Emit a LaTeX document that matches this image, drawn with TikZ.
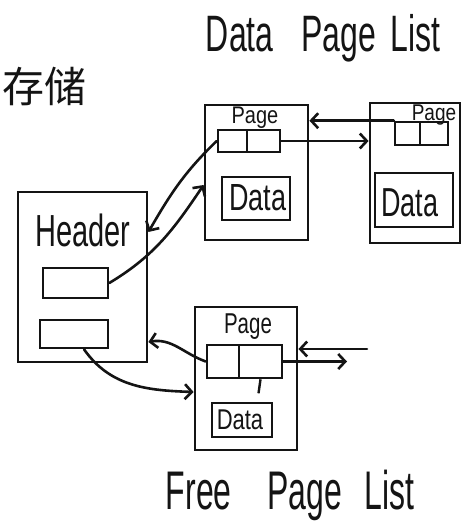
\documentclass[tikz,border=0pt]{standalone}
\usepackage{fontspec}
\setmainfont{Liberation Sans}
\newfontfamily\cjk{Noto Sans CJK SC}
\usepackage{graphicx}
\usetikzlibrary{arrows.meta}
\usetikzlibrary{calc}
\tikzset{>={Straight Barb[length=7pt,width=15pt]}}
\colorlet{ink}{black!92}
\tikzstyle{box}=[draw=ink,line width=2.8pt,inner sep=0pt]
\tikzstyle{cell}=[box,line width=2.6pt]
\tikzstyle{link}=[draw=ink,line width=2.6pt,->,line cap=round]
\tikzstyle{hand}=[inner sep=0pt,text=ink]
\newcommand{\tall}[2][1.4]{\scalebox{1}[#1]{#2}}

\begin{document}
\begin{tikzpicture}[x=1pt,y=1pt]
  \useasboundingbox (0,0) rectangle (465,530);

  % header block with its two slots
  \node[box,minimum width=129pt,minimum height=170pt] (header) at (82.5,253) {};
  \node[hand,font=\fontsize{29}{29}\selectfont] (headtxt) at (83,300) {\tall[1.55]{Header}};
  \node[cell,minimum width=65pt,minimum height=30pt] (slot1) at (75.5,247) {};
  \node[cell,minimum width=68pt,minimum height=28pt] (slot2) at (74,196) {};

  % data page list
  \node[box,minimum width=103pt,minimum height=135pt] (page1) at (256.5,357.5) {};
  \node[hand,font=\fontsize{20}{20}\selectfont] (pg1txt) at (255,412) {\tall[1.2]{Page}};
  \node[cell,minimum width=29pt,minimum height=22pt] (p1c1) at (232.5,389) {};
  \node[cell,minimum width=33pt,minimum height=22pt] (p1c2) at (263.5,389) {};
  \node[cell,minimum width=68pt,minimum height=43pt] (p1d) at (256,331.5) {};
  \node[hand,font=\fontsize{27}{27}\selectfont] (p1dtxt) at (258,332) {\tall{Data}};

  \node[box,minimum width=90pt,minimum height=140pt] (page2) at (415,357) {};
  \node[hand,font=\fontsize{19}{19}\selectfont] (pg2txt) at (434,415) {\tall[1.2]{Page}};
  \node[cell,minimum width=25pt,minimum height=23pt] (p2c1) at (407.5,396.5) {};
  \node[cell,minimum width=28pt,minimum height=23pt] (p2c2) at (434,396.5) {};
  \node[cell,minimum width=78pt,minimum height=54pt] (p2d) at (414,330) {};
  \node[hand,font=\fontsize{27}{27}\selectfont] (p2dtxt) at (410,327) {\tall[1.5]{Data}};

  % free page list
  \node[box,minimum width=102pt,minimum height=143pt] (free) at (246,151.5) {};
  \node[hand,font=\fontsize{20.5}{20.5}\selectfont] (fpgtxt) at (248,203) {\tall{Page}};
  \node[cell,minimum width=32pt,minimum height=33pt] (fc1) at (223,168.5) {};
  \node[cell,minimum width=43pt,minimum height=33pt] (fc2) at (260.5,168.5) {};
  \node[cell,minimum width=60pt,minimum height=34pt] (fd) at (242,110) {};
  \node[hand,font=\fontsize{22}{22}\selectfont] (fdtxt) at (240,110) {\tall[1.3]{Data}};

  % titles
  \node[hand,font=\fontsize{32}{32}\selectfont] (dtitle) at (323,492)
    {\tall[1.6]{Data\hspace{28pt}Page\hspace{14pt}List}};
  \node[hand,font=\fontsize{32}{32}\selectfont] (ftitle) at (290,35)
    {\tall[1.7]{Free\hspace{36pt}Page\hspace{22pt}List}};
  \node[hand,font=\cjk\fontsize{42}{42}\selectfont] (store) at (44,444) {存储};

  % links between pages
  \draw[link] (p2c1.north west) -- (p2c1.north west -| page1.east);
  \draw[link] (p1c2.east) -- (p1c2.east -| page2.west);
  \coordinate (fin) at (367,181);
  \coordinate (fout) at (347,166);
  \draw[link] (fin) -- (fin -| free.east);
  \draw[link] (fc2.east) -- (fc2.east -| fout);
  \draw[draw=ink,line width=2.4pt] (fc2.south) -- ++(-2,-14);

  % links to and from the header
  \draw[link] (p1c1.west) to[out=224,in=60] ([yshift=45pt]header.east);
  \draw[link] (slot1.east) to[out=31,in=236] ([yshift=-12.5pt]page1.west);
  \draw[link] (fc1.west) to[out=160,in=10] ([yshift=-65pt]header.east);
  \draw[link] ([xshift=10pt]slot2.south) to[out=-55,in=178] ([yshift=-13.5pt]free.west);
\end{tikzpicture}
\end{document}
